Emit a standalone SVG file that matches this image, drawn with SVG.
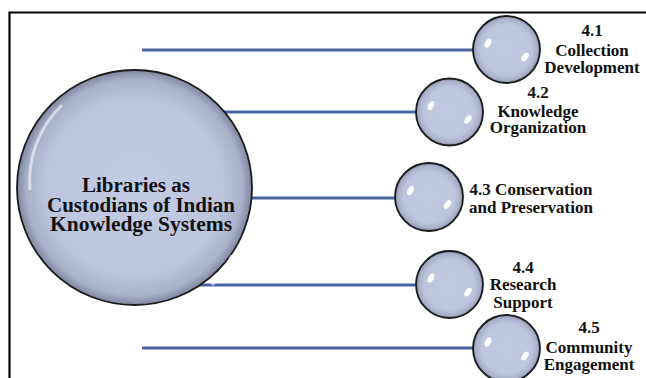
<svg xmlns="http://www.w3.org/2000/svg" width="646" height="378" viewBox="0 0 646 378">
<defs>
<radialGradient id="ball" cx="50%" cy="50%" r="50%">
<stop offset="0" stop-color="#C4CBE4"/>
<stop offset="0.75" stop-color="#BDC4DE"/>
<stop offset="0.92" stop-color="#A9B0CA"/>
<stop offset="1" stop-color="#80869F"/>
</radialGradient>
<style>
.ball{fill:url(#ball);stroke:#1a1a1a;stroke-width:1.8}
.hl{fill:#ffffff}
.conn{stroke:#4B64A2;stroke-width:3;fill:none}
text{font-family:'Liberation Serif',serif;font-weight:bold;fill:#111;text-anchor:middle}
.lbl{font-size:17px}
.big{font-size:20px}
</style>
</defs>
<rect width="646" height="378" fill="#ffffff"/>
<path d="M646,12.5 H9.5 V378" fill="none" stroke="#000" stroke-width="2.2"/>
<g id="connectors">
<line class="conn" x1="142" y1="50" x2="480" y2="50"/>
<line class="conn" x1="134" y1="112" x2="420" y2="112"/>
<line class="conn" x1="134" y1="198" x2="400" y2="198"/>
<line class="conn" x1="134" y1="285" x2="420" y2="285"/>
<line class="conn" x1="142" y1="348" x2="480" y2="348"/>
</g>
<g id="center">
<circle class="ball" cx="134.5" cy="187.5" r="117.5"/>
<path d="M30,190 A105,105 0 0 1 62,105" fill="none" stroke="#ffffff" stroke-width="3" opacity="0.55"/>
<path d="M232,255 A105,105 0 0 1 212,285" fill="none" stroke="#ffffff" stroke-width="3" opacity="0.55"/>
<text class="big" x="136" y="192" textLength="108" lengthAdjust="spacingAndGlyphs">Libraries  as</text>
<text class="big" x="141" y="211.5" textLength="188" lengthAdjust="spacingAndGlyphs">Custodians of Indian</text>
<text class="big" x="141" y="230.5" textLength="182" lengthAdjust="spacingAndGlyphs">Knowledge Systems</text>
</g>
<g id="n41">
<circle class="ball" cx="506.5" cy="49.5" r="33.5"/>
<ellipse class="hl" cx="488" cy="43" rx="2.8" ry="5" transform="rotate(25 488 43)"/>
<ellipse class="hl" cx="525" cy="57" rx="2.8" ry="5" transform="rotate(35 525 57)"/>
<text class="lbl" x="592" y="36">4.1</text>
<text class="lbl" x="592" y="56">Collection</text>
<text class="lbl" x="592" y="73">Development</text>
</g>
<g id="n42">
<circle class="ball" cx="449.5" cy="112" r="33.5"/>
<ellipse class="hl" cx="431" cy="105.5" rx="2.8" ry="5" transform="rotate(25 431 105.5)"/>
<ellipse class="hl" cx="468" cy="119.5" rx="2.8" ry="5" transform="rotate(35 468 119.5)"/>
<text class="lbl" x="538" y="98">4.2</text>
<text class="lbl" x="538" y="117">Knowledge</text>
<text class="lbl" x="538" y="133">Organization</text>
</g>
<g id="n43">
<circle class="ball" cx="429" cy="197" r="34"/>
<ellipse class="hl" cx="410.5" cy="190.5" rx="2.8" ry="5" transform="rotate(25 410.5 190.5)"/>
<ellipse class="hl" cx="447.5" cy="204.5" rx="2.8" ry="5" transform="rotate(35 447.5 204.5)"/>
<text class="lbl" x="531" y="195">4.3 Conservation</text>
<text class="lbl" x="531" y="213">and Preservation</text>
</g>
<g id="n44">
<circle class="ball" cx="449.5" cy="284.5" r="33.5"/>
<ellipse class="hl" cx="431" cy="278" rx="2.8" ry="5" transform="rotate(25 431 278)"/>
<ellipse class="hl" cx="468" cy="292" rx="2.8" ry="5" transform="rotate(35 468 292)"/>
<text class="lbl" x="523" y="273">4.4</text>
<text class="lbl" x="523" y="290">Research</text>
<text class="lbl" x="523" y="308">Support</text>
</g>
<g id="n45">
<circle class="ball" cx="506.5" cy="348.5" r="33.5"/>
<ellipse class="hl" cx="488" cy="342" rx="2.8" ry="5" transform="rotate(25 488 342)"/>
<ellipse class="hl" cx="525" cy="356" rx="2.8" ry="5" transform="rotate(35 525 356)"/>
<text class="lbl" x="589" y="333">4.5</text>
<text class="lbl" x="589" y="353">Community</text>
<text class="lbl" x="589" y="370">Engagement</text>
</g>
</svg>
